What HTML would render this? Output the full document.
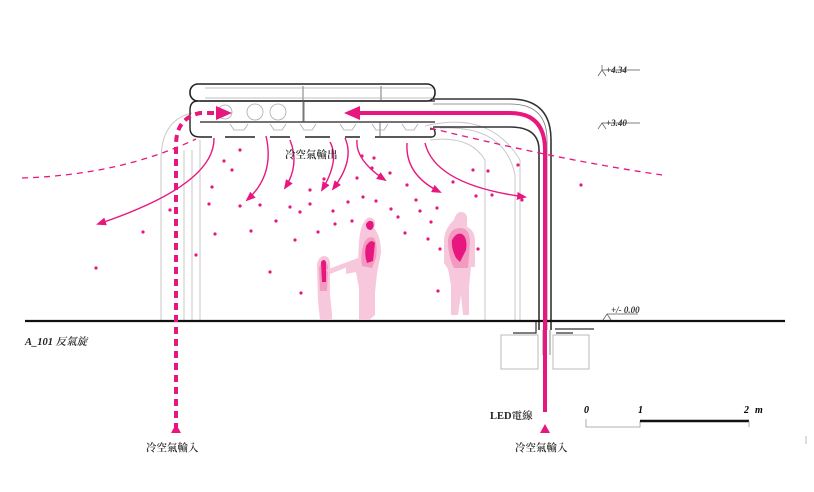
<!DOCTYPE html>
<html><head><meta charset="utf-8">
<style>
html,body{margin:0;padding:0;background:#fff;}
svg{display:block;}
text{font-family:"Liberation Serif","Noto Serif CJK TC",serif;}
</style></head>
<body>
<svg width="814" height="492" viewBox="0 0 814 492" xmlns="http://www.w3.org/2000/svg">
<defs>
<marker id="ah" markerWidth="10" markerHeight="8" refX="8" refY="4" orient="auto" markerUnits="userSpaceOnUse"><path d="M0,0 L10,4 L0,8 Z" fill="#e8177f"/></marker>
<marker id="ahb" markerWidth="16" markerHeight="14" refX="12" refY="7" orient="auto" markerUnits="userSpaceOnUse"><path d="M0,0 L16,7 L0,14 Z" fill="#e8177f"/></marker>
</defs>

<g fill="none" stroke="#c8c8c8" stroke-width="1">
<path d="M161,320 V160 Q161,120 192,113"/>
<path d="M184,320 V150"/>
<path d="M192,320 V150"/>
<path d="M200,320 V140"/>
<path d="M430,140 Q470,135 485,160 V320"/>
<path d="M440,128 Q505,125 515,175 V320"/>
<path d="M425,126 Q490,110 520,160 V320"/>
</g>

<g fill="none" stroke="#222">
<rect x="190" y="84" width="245" height="17" rx="8" stroke-width="1.6"/>
<path d="M200,101 H435 M200,122 H435" stroke-width="1.2"/>
<path d="M198,101 Q190,101 190,110 V128 Q190,137 200,137 H212 M225,137 H255 M270,137 H290 M305,137 H330 M345,137 H360 M375,137 H432 Q437,136 434,129 H430" stroke-width="1.4"/>
<path d="M303,86 V122 M304,101 V122 M381,86 V101 M380,122 V137" stroke="#555" stroke-width="0.8"/>
</g>
<g fill="none" stroke="#aaa" stroke-width="0.8">
<circle cx="255" cy="112" r="8"/><circle cx="278" cy="112" r="8"/><circle cx="225" cy="112" r="7"/>
<path d="M230,124 l4,6 h10 l4,-6 M270,124 l4,6 h8 l4,-6 M300,124 l4,6 h8 l4,-6 M340,124 l4,6 h8 l4,-6 M372,124 l4,6 h8 l4,-6 M402,124 l4,6 h8 l4,-6"/>
<path d="M205,88 H433 M205,98 H433"/>
</g>

<g fill="none" stroke="#333">
<path d="M433,99 H510 Q551,99 551,140 V330" stroke-width="1.6"/>
<path d="M433,104 H510 Q547,104 547,140 V330" stroke-width="0.8" stroke="#777"/>
<path d="M433,127 H510 Q539,127 539,150 V330" stroke-width="1.6"/>
<path d="M543,330 V355" stroke="#888" stroke-width="1"/>
<path d="M550,330 V355" stroke="#888" stroke-width="1"/>
</g>

<line x1="25" y1="321" x2="785" y2="321" stroke="#111" stroke-width="2.2"/>
<g fill="none" stroke="#bbb" stroke-width="1">
<rect x="501" y="335" width="37" height="34"/>
<rect x="553" y="335" width="36" height="34"/>
</g>
<path d="M513,333 H536 V322 M555,329 H594 M556,333 H573" stroke="#333" stroke-width="1.2" fill="none"/>

<path d="M545,412 V150 Q545,113 510,113 H348" fill="none" stroke="#e8177f" stroke-width="4" marker-end="url(#ahb)"/>
<polygon points="545,424 540,433 550,433" fill="#e8177f"/>
<path d="M176,430 V145 Q176,118 200,113 H228" fill="none" stroke="#e8177f" stroke-width="4" stroke-dasharray="7,5" marker-end="url(#ahb)"/>
<polygon points="176,424 171,433 181,433" fill="#e8177f"/>

<g fill="none" stroke="#e8177f" stroke-width="1.3" stroke-dasharray="6,5">
<path d="M22,178 Q120,175 196,139"/>
<path d="M430,128 Q560,160 662,175"/>
</g>

<g fill="none" stroke="#e8177f" stroke-width="1.4" marker-end="url(#ah)">
<path d="M214,138 Q215,185 98,224"/>
<path d="M266,136 Q275,175 247,200"/>
<path d="M290,140 Q300,165 285,188"/>
<path d="M330,142 Q340,160 322,190"/>
<path d="M345,138 Q355,160 333,189"/>
<path d="M357,140 Q355,160 385,180"/>
<path d="M407,143 Q405,175 440,192"/>
<path d="M425,143 Q435,185 525,197"/>
</g>

<g fill="#e8177f">
<circle cx="224" cy="161" r="1.6"/><circle cx="232" cy="170" r="1.6"/><circle cx="212" cy="187" r="1.6"/><circle cx="209" cy="204" r="1.6"/><circle cx="143" cy="232" r="1.6"/><circle cx="215" cy="234" r="1.6"/><circle cx="196" cy="255" r="1.6"/><circle cx="96" cy="268" r="1.6"/><circle cx="170" cy="210" r="1.6"/>
<circle cx="240" cy="206" r="1.6"/><circle cx="260" cy="205" r="1.6"/><circle cx="251" cy="231" r="1.6"/><circle cx="276" cy="221" r="1.6"/><circle cx="290" cy="207" r="1.6"/><circle cx="295" cy="240" r="1.6"/><circle cx="300" cy="212" r="1.6"/><circle cx="310" cy="204" r="1.6"/><circle cx="270" cy="272" r="1.6"/><circle cx="301" cy="293" r="1.6"/><circle cx="318" cy="232" r="1.6"/>
<circle cx="310" cy="190" r="1.6"/><circle cx="324" cy="179" r="1.6"/><circle cx="333" cy="211" r="1.6"/><circle cx="348" cy="202" r="1.6"/><circle cx="335" cy="224" r="1.6"/><circle cx="352" cy="221" r="1.6"/><circle cx="363" cy="197" r="1.6"/><circle cx="376" cy="201" r="1.6"/><circle cx="398" cy="217" r="1.6"/><circle cx="391" cy="209" r="1.6"/><circle cx="405" cy="233" r="1.6"/><circle cx="420" cy="211" r="1.6"/><circle cx="431" cy="222" r="1.6"/><circle cx="428" cy="239" r="1.6"/><circle cx="437" cy="208" r="1.6"/><circle cx="440" cy="249" r="1.6"/><circle cx="438" cy="291" r="1.6"/>
<circle cx="362" cy="156" r="1.6"/><circle cx="374" cy="158" r="1.6"/><circle cx="390" cy="173" r="1.6"/><circle cx="372" cy="168" r="1.6"/><circle cx="357" cy="178" r="1.6"/><circle cx="407" cy="185" r="1.6"/><circle cx="416" cy="200" r="1.6"/><circle cx="453" cy="182" r="1.6"/><circle cx="473" cy="170" r="1.6"/><circle cx="488" cy="171" r="1.6"/><circle cx="476" cy="196" r="1.6"/><circle cx="492" cy="195" r="1.6"/><circle cx="518" cy="165" r="1.6"/><circle cx="522" cy="200" r="1.6"/><circle cx="581" cy="185" r="1.6"/><circle cx="462" cy="222" r="1.6"/><circle cx="478" cy="249" r="1.6"/><circle cx="240" cy="150" r="1.6"/>
</g>

<g>
<path d="M317,264 q2,-8 7,-8 q6,0 6,8 l0,30 l2,20 l0,6 l-12,0 l-2,-20 z" fill="#f7c7dc"/>
<path d="M319,268 q2,-6 5,-6 q4,0 4,7 l-1,22 l-7,0 z" fill="#f39ac0"/>
<path d="M321,262 q3,-4 5,0 l0,20 l-4,0 z" fill="#e8177f"/>
<path d="M326,270 l32,-12 l2,4 l-30,12 z" fill="#f7c7dc"/>
<path d="M364,222 q3,-6 8,-4 q5,3 2,10 q7,8 7,25 l-4,20 l-2,20 l0,22 l-6,5 l-10,0 l0,-32 l-3,-16 l-10,2 l0,-6 l12,-8 l1,-18 q1,-14 5,-20 z" fill="#f7c7dc"/>
<path d="M364,243 q4,-8 10,-5 q4,6 2,20 l-4,10 l-10,-2 q-2,-12 2,-23 z" fill="#f39ac0"/>
<path d="M366,224 q3,-5 7,-2 q2,5 -2,8 q-5,0 -5,-6 z M366,246 q5,-8 9,-3 l-2,18 l-6,2 q-3,-9 -1,-17 z" fill="#e8177f"/>
<path d="M454,220 q2,-8 7,-8 q7,0 6,10 l0,5 q8,3 8,15 l0,25 l-4,0 l-2,20 l0,28 l-6,0 l-2,-20 l-3,20 l-7,0 l0,-30 l-3,-16 l-4,-6 l0,-22 q0,-12 10,-21 z" fill="#f7c7dc"/>
<path d="M448,240 q2,-12 12,-12 q10,0 10,14 l-2,26 l-14,0 q-6,-12 -6,-28 z" fill="#f39ac0"/>
<path d="M452,240 q4,-8 10,-6 q6,4 4,16 l-6,12 l-4,-4 q-5,-10 -4,-18 z" fill="#e8177f"/>
</g>

<g font-style="italic" font-size="9" fill="#333" font-weight="bold">
<path d="M598,76 l4,-6 l4,6 M602,70 v-5 M602,70 H640" stroke="#555" stroke-width="0.7" fill="none"/>
<text x="606" y="73">+4.34</text>
<path d="M598,129 l4,-6 l4,6 M602,123 H640" stroke="#555" stroke-width="0.7" fill="none"/>
<text x="606" y="126">+3.40</text>
<path d="M603,320 l4,-6 l4,6 M607,314 H638" stroke="#555" stroke-width="0.7" fill="none"/>
<text x="611" y="313">+/- 0.00</text>
</g>

<g font-weight="bold">
<text x="584" y="413" font-size="10" font-style="italic">0</text>
<text x="638" y="413" font-size="10" font-style="italic">1</text>
<text x="744" y="413" font-size="10" font-style="italic">2</text>
<text x="755" y="413" font-size="10" font-style="italic">m</text>
<path d="M586,419 V427 H640 V421" fill="none" stroke="#999" stroke-width="0.8"/>
<line x1="640" y1="421" x2="749" y2="421" stroke="#111" stroke-width="2.5"/>
<line x1="749" y1="421" x2="749" y2="427" stroke="#999" stroke-width="0.8"/>
<line x1="806" y1="436" x2="806" y2="444" stroke="#bbb" stroke-width="1"/>
</g>

<g fill="#222" font-size="10.5" font-weight="600">
<text x="285" y="158">冷空氣輸出</text>
<text x="25" y="345" font-style="italic">A_101 反氣旋</text>
<text x="490" y="419">LED電線</text>
<text x="146" y="451">冷空氣輸入</text>
<text x="515" y="451">冷空氣輸入</text>
</g>
</svg>
</body></html>
